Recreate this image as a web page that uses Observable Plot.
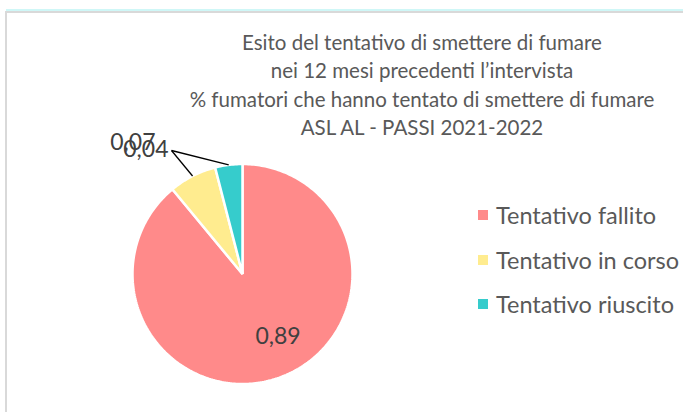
<!DOCTYPE html>
<html>
<head>
<meta charset="utf-8">
<script src="https://cdn.jsdelivr.net/npm/d3@7"></script>
<script src="https://cdn.jsdelivr.net/npm/@observablehq/plot@0.6"></script>
<style>
  html, body { margin: 0; padding: 0; background: #fff; }
  #wrap { position: relative; width: 683px; height: 412px; overflow: hidden; background: #fff; font-family: Lato, "Open Sans", sans-serif; color: #595959; }
  #topcyan { position: absolute; left: 6px; top: 9px; width: 677px; height: 2px; background: #CFF7F7; }
  #topgray { position: absolute; left: 5px; top: 11px; width: 678px; height: 2px; background: #D9D9D9; }
  #leftgray { position: absolute; left: 5px; top: 11px; width: 2px; height: 401px; background: #D9D9D9; }
  #title { position: absolute; left: 122px; width: 600px; top: 28px; text-align: center; font-size: 20.5px; line-height: 28.3px; white-space: nowrap; }
  #legend { position: absolute; left: 478px; top: 193px; }
  .row { display: flex; align-items: center; height: 44.5px; font-size: 23.5px; white-space: nowrap; }
  .sw { width: 10px; height: 10px; margin-right: 8px; }
  #chart { position: absolute; left: 0; top: 0; }
</style>
</head>
<body>
<div id="wrap">
  <div id="topcyan"></div>
  <div id="topgray"></div>
  <div id="leftgray"></div>
  <div id="title"></div>
  <div id="legend"></div>
  <div id="chart"></div>
</div>
<script>
const titleLines = [
  "Esito del tentativo di smettere di fumare",
  "nei 12 mesi precedenti l\u2019intervista",
  "% fumatori che hanno tentato di smettere di fumare",
  "ASL AL - PASSI 2021-2022"
];
const categories = ["Tentativo fallito", "Tentativo in corso", "Tentativo riuscito"];
const values = [0.89, 0.07, 0.04];
const valueLabels = ["0,89", "0,07", "0,04"];
const colors = ["#FF8A8A", "#FFEC8F", "#36CCCC"];

// title & legend
document.getElementById("title").innerHTML = titleLines.map(t => `<div>${t}</div>`).join("");
document.getElementById("legend").innerHTML = categories.map((c, i) =>
  `<div class="row"><div class="sw" style="background:${colors[i]}"></div><span>${c}</span></div>`).join("");

// pie geometry (clockwise from 12 o'clock)
const arcs = d3.pie().sort(null).startAngle(0).endAngle(2 * Math.PI)(values);
const pts = [];
arcs.forEach((a, i) => {
  pts.push({cat: categories[i], x: 0, y: 0});
  const n = Math.max(2, Math.ceil((a.endAngle - a.startAngle) / (Math.PI / 180)));
  for (let k = 0; k <= n; ++k) {
    const t = a.startAngle + (a.endAngle - a.startAngle) * k / n;
    pts.push({cat: categories[i], x: Math.sin(t), y: Math.cos(t)});
  }
});

const R = 110; // pixels per unit
const mid = arcs.map(a => (a.startAngle + a.endAngle) / 2);

// main inside label
const inside = [{label: valueLabels[0], x: 0.66 * Math.sin(mid[0]), y: 0.66 * Math.cos(mid[0])}];

// callouts for small slices
const anchor = {x: -71 / R, y: 123.5 / R};
const leaders = [1, 2].map(i => ({x1: anchor.x, y1: anchor.y, x2: Math.sin(mid[i]), y2: Math.cos(mid[i])}));
const outside = [
  {label: valueLabels[1], x: anchor.x - 16 / R, y: anchor.y + 8 / R},
  {label: valueLabels[2], x: anchor.x - 3 / R, y: anchor.y + 1 / R}
];

const chart = Plot.plot({
  width: 683,
  height: 412,
  margin: 0,
  style: {background: "transparent", fontFamily: "Lato, 'Open Sans', sans-serif", overflow: "visible"},
  x: {domain: [-1, 1], range: [132, 352], axis: null},
  y: {domain: [-1, 1], range: [383.5, 163.5], axis: null},
  color: {domain: categories, range: colors},
  marks: [
    Plot.line(pts, {x: "x", y: "y", z: "cat", fill: "cat", stroke: "white", strokeWidth: 2.5, strokeLinejoin: "miter", curve: "linear-closed"}),
    Plot.text(inside, {x: "x", y: "y", text: "label", fontSize: 23, fill: "#404040", dx: 11, dy: -6}),
    Plot.link(leaders, {x1: "x1", y1: "y1", x2: "x2", y2: "y2", stroke: "black", strokeWidth: 1.3}),
    Plot.text(outside, {x: "x", y: "y", text: "label", fontSize: 23, fill: "#404040", textAnchor: "end"})
  ]
});
document.getElementById("chart").appendChild(chart);
</script>
</body>
</html>
